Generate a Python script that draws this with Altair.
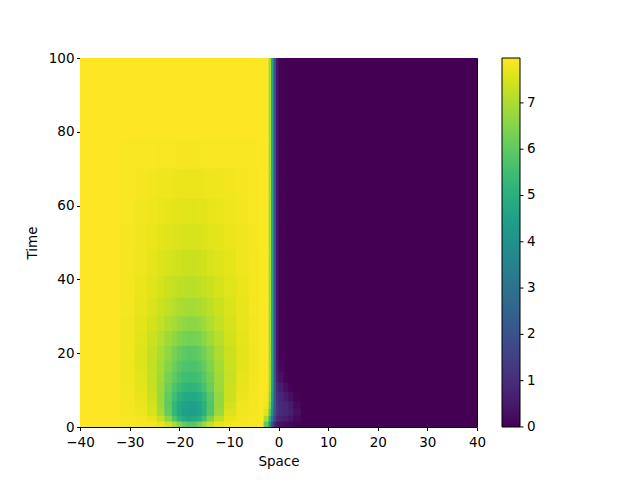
import altair as alt
import pandas as pd

# Cell edges (Space, Time) of the coarse grid
X_EDGES = [-40, -32, -29, -26.5, -24.5, -23, -21.5, -20.5, -19.5, -18.5, -17.5, -16.5,
           -15.5, -14.5, -13, -11, -8.5, -6, -4, -3, -2, -1.5, -1, -0.5, 0, 1, 2, 3, 4.5, 40]
T_EDGES = [0, 1.5, 3, 5, 7, 9.5, 12, 15, 18, 22, 26, 30, 35, 41, 48, 55, 62, 70, 78, 100]

# Values left of the front (columns -40 .. -3), one row per time band (bottom to top)
LEFT_ROWS = [
    [7.97, 7.9, 7.9, 7.85, 7.7, 7.4, 7.0, 6.5, 6.1, 5.9, 5.9, 6.3, 6.8, 7.3, 7.7, 7.85, 7.9, 7.9, 7.95],
    [7.97, 7.9, 7.85, 7.7, 7.3, 6.6, 5.8, 5.2, 4.9, 4.75, 4.8, 5.05, 5.6, 6.4, 7.2, 7.7, 7.85, 7.9, 7.95],
    [7.97, 7.88, 7.8, 7.5, 6.9, 6.1, 5.3, 4.8, 4.5, 4.4, 4.4, 4.65, 5.1, 5.9, 6.8, 7.55, 7.82, 7.88, 7.95],
    [7.97, 7.87, 7.75, 7.45, 6.8, 6.0, 5.3, 4.85, 4.6, 4.5, 4.5, 4.7, 5.1, 5.8, 6.7, 7.45, 7.8, 7.87, 7.95],
    [7.97, 7.85, 7.7, 7.35, 6.75, 6.05, 5.5, 5.1, 4.88, 4.8, 4.8, 4.95, 5.3, 5.9, 6.7, 7.35, 7.75, 7.85, 7.95],
    [7.97, 7.85, 7.65, 7.3, 6.8, 6.2, 5.75, 5.45, 5.27, 5.2, 5.2, 5.35, 5.65, 6.15, 6.8, 7.35, 7.72, 7.85, 7.95],
    [7.97, 7.83, 7.6, 7.25, 6.85, 6.35, 6.0, 5.72, 5.56, 5.5, 5.5, 5.62, 5.9, 6.3, 6.85, 7.3, 7.68, 7.84, 7.95],
    [7.97, 7.82, 7.58, 7.25, 6.9, 6.5, 6.18, 5.93, 5.77, 5.7, 5.72, 5.83, 6.08, 6.45, 6.92, 7.32, 7.66, 7.83, 7.95],
    [7.97, 7.82, 7.58, 7.28, 6.98, 6.63, 6.35, 6.13, 5.98, 5.9, 5.92, 6.03, 6.25, 6.6, 7.0, 7.35, 7.65, 7.82, 7.95],
    [7.97, 7.83, 7.62, 7.36, 7.1, 6.85, 6.65, 6.48, 6.36, 6.3, 6.32, 6.4, 6.58, 6.85, 7.12, 7.42, 7.67, 7.83, 7.95],
    [7.97, 7.84, 7.66, 7.45, 7.25, 7.04, 6.88, 6.75, 6.65, 6.6, 6.62, 6.7, 6.82, 7.02, 7.25, 7.48, 7.69, 7.84, 7.95],
    [7.97, 7.85, 7.7, 7.53, 7.37, 7.22, 7.1, 7.0, 6.94, 6.9, 6.91, 6.97, 7.06, 7.2, 7.37, 7.54, 7.72, 7.85, 7.95],
    [7.97, 7.86, 7.74, 7.6, 7.48, 7.37, 7.28, 7.21, 7.17, 7.15, 7.16, 7.2, 7.26, 7.36, 7.48, 7.6, 7.74, 7.86, 7.95],
    [7.97, 7.87, 7.78, 7.67, 7.58, 7.5, 7.44, 7.4, 7.37, 7.35, 7.36, 7.38, 7.43, 7.5, 7.58, 7.67, 7.78, 7.87, 7.95],
    [7.97, 7.88, 7.81, 7.73, 7.66, 7.6, 7.56, 7.53, 7.51, 7.5, 7.5, 7.52, 7.55, 7.6, 7.66, 7.73, 7.81, 7.88, 7.95],
    [7.97, 7.89, 7.83, 7.78, 7.73, 7.69, 7.66, 7.64, 7.63, 7.62, 7.62, 7.63, 7.65, 7.69, 7.73, 7.78, 7.84, 7.89, 7.96],
    [7.97, 7.9, 7.86, 7.83, 7.8, 7.78, 7.77, 7.76, 7.75, 7.75, 7.75, 7.76, 7.77, 7.78, 7.8, 7.83, 7.86, 7.9, 7.96],
    [7.97, 7.93, 7.92, 7.91, 7.9, 7.89, 7.89, 7.88, 7.88, 7.88, 7.88, 7.88, 7.89, 7.89, 7.9, 7.91, 7.92, 7.93, 7.96],
    [7.97, 7.97, 7.97, 7.97, 7.97, 7.97, 7.97, 7.97, 7.97, 7.97, 7.97, 7.97, 7.97, 7.97, 7.97, 7.97, 7.97, 7.97, 7.97],
]

# Values across the front (columns -3 .. 40), one row per time band (bottom to top)
FRONT_ROWS = [
    [6.0, 4.0, 2.0, 0.8, 0.4, 0.3, 0.2, 0.1, 0.05, 0],
    [7.0, 5.0, 3.2, 1.6, 0.9, 0.7, 0.55, 0.4, 0.15, 0],
    [7.6, 5.8, 3.8, 2.0, 1.2, 0.95, 0.8, 0.65, 0.3, 0],
    [7.8, 6.3, 4.2, 2.2, 1.2, 0.95, 0.8, 0.55, 0.15, 0],
    [7.9, 6.6, 4.5, 2.2, 1.1, 0.85, 0.55, 0.25, 0.05, 0],
    [7.93, 6.8, 4.7, 2.2, 0.9, 0.6, 0.25, 0.05, 0, 0],
    [7.95, 6.9, 4.8, 2.1, 0.7, 0.3, 0.05, 0, 0, 0],
    [7.95, 6.9, 4.8, 2.1, 0.55, 0.15, 0, 0, 0, 0],
    [7.95, 6.9, 4.8, 2.0, 0.45, 0.05, 0, 0, 0, 0],
    [7.95, 6.9, 4.8, 2.0, 0.45, 0.05, 0, 0, 0, 0],
    [7.95, 6.9, 4.8, 2.0, 0.45, 0.05, 0, 0, 0, 0],
    [7.95, 6.9, 4.8, 2.0, 0.45, 0.05, 0, 0, 0, 0],
    [7.95, 6.9, 4.8, 2.0, 0.45, 0.05, 0, 0, 0, 0],
    [7.95, 6.9, 4.8, 2.0, 0.45, 0.05, 0, 0, 0, 0],
    [7.95, 6.9, 4.8, 2.0, 0.45, 0.05, 0, 0, 0, 0],
    [7.95, 6.9, 4.8, 2.0, 0.45, 0.05, 0, 0, 0, 0],
    [7.95, 6.9, 4.8, 2.0, 0.45, 0.05, 0, 0, 0, 0],
    [7.95, 6.9, 4.8, 2.0, 0.45, 0.05, 0, 0, 0, 0],
    [7.95, 6.9, 4.8, 2.0, 0.45, 0.05, 0, 0, 0, 0],
]

COLOR_MIN = -0.001
COLOR_MAX = 7.97
CBAR_TICKS = [0, 1, 2, 3, 4, 5, 6, 7]
X_TICKS = [-40, -30, -20, -10, 0, 10, 20, 30, 40]
Y_TICKS = [0, 20, 40, 60, 80, 100]
FS = 13.5

# small overlap so neighbouring cells leave no anti-aliasing seams
OVER_X = 0.2
OVER_T = 0.3

records = []
for i in range(len(T_EDGES) - 1):
    row = LEFT_ROWS[i] + FRONT_ROWS[i]
    for j in range(len(X_EDGES) - 1):
        records.append({"x0": X_EDGES[j], "x1": X_EDGES[j + 1] + OVER_X,
                        "t0": T_EDGES[i], "t1": T_EDGES[i + 1] + OVER_T, "v": row[j]})
df = pd.DataFrame(records)
ticks_df = pd.DataFrame({"v": CBAR_TICKS})

cscale = alt.Scale(scheme="viridis", domain=[COLOR_MIN, COLOR_MAX])
minus = "replace(datum.label, '-', '\u2212')"

heat = alt.Chart(df).mark_rect(strokeWidth=0, clip=True).encode(
    x=alt.X("x0:Q", scale=alt.Scale(domain=[-40, 40], nice=False, zero=False),
            axis=alt.Axis(values=X_TICKS, title="Space", labelExpr=minus,
                          labelFlush=False, labelPadding=5, titlePadding=5)),
    x2="x1:Q",
    y=alt.Y("t0:Q", scale=alt.Scale(domain=[0, 100], nice=False, zero=False),
            axis=alt.Axis(values=Y_TICKS, title="Time", labelFlush=False,
                          labelPadding=2.5, titlePadding=9)),
    y2="t1:Q",
    color=alt.Color("v:Q", scale=cscale,
                    legend=alt.Legend(type="gradient", title=None, values=CBAR_TICKS,
                                      orient="right", direction="vertical",
                                      gradientLength=369, gradientThickness=18,
                                      offset=25, padding=0, labelOffset=7,
                                      labelFontSize=FS, labelColor="black",
                                      gradientStrokeColor="black",
                                      gradientStrokeWidth=1)),
)

# small tick marks on the right edge of the colour bar
cbar_ticks = alt.Chart(ticks_df).mark_rule(color="black", strokeWidth=1).encode(
    x=alt.value(440),
    x2=alt.value(443.5),
    y=alt.Y("v:Q", scale=alt.Scale(domain=[COLOR_MIN, COLOR_MAX], nice=False, zero=False),
            axis=None),
)

chart = alt.layer(heat, cbar_ticks).resolve_scale(y="independent").properties(
    width=397, height=369,
    autosize=alt.AutoSizeParams(type="none"),
    padding={"left": 72, "top": 50, "right": 151, "bottom": 45},
).configure(
    font="DejaVu Sans",
).configure_view(
    stroke="black", strokeWidth=1,
).configure_axis(
    grid=False, domainColor="black", tickColor="black", labelColor="black",
    titleColor="black", labelFontSize=FS, titleFontSize=FS,
    titleFontWeight="normal", tickSize=3.5, domainWidth=1,
)

chart.save("out.html", embed_options={"renderer": "svg", "actions": False})
